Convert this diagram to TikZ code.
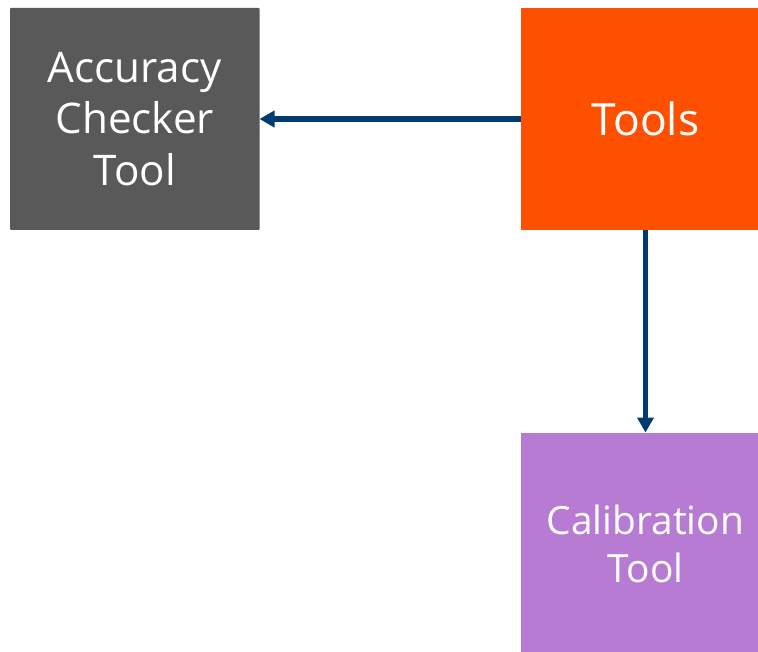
\documentclass[tikz,border=0pt]{standalone}
\usepackage{fontspec}
\setmainfont{Open Sans}
\usetikzlibrary{arrows.meta}
\definecolor{grayb}{HTML}{595959}
\definecolor{orangeb}{HTML}{FF5000}
\definecolor{purpleb}{HTML}{B87BD4}
\definecolor{arrowc}{HTML}{003C71}
\tikzset{
  boxn/.style={anchor=north west,inner sep=0pt,outer sep=0pt,text=white,align=center},
  conn/.style={draw=arrowc,line width=5.2pt,-{Triangle[length=15pt,width=16pt]}}
}
\begin{document}
\begin{tikzpicture}[x=1pt,y=-1pt]
\clip (0,0) rectangle (758,652);
\node[boxn,fill=grayb,minimum width=249.5pt,minimum height=222pt,rounded corners=1pt,font=\fontsize{42.2}{51.5}\selectfont] (a) at (10,8) {Accuracy\\Checker\\Tool};
\node[boxn,fill=orangeb,minimum width=249pt,minimum height=222pt,font=\fontsize{44.4}{51}\selectfont] (t) at (521,8) {Tools};
\node[boxn,fill=purpleb,minimum width=249pt,minimum height=222pt,font=\fontsize{38.9}{48}\selectfont] (c) at (521,432.5) {Calibration\\Tool};
\draw[conn] (t) -- (a);
\draw[conn] (t) -- (c);
\end{tikzpicture}
\end{document}
